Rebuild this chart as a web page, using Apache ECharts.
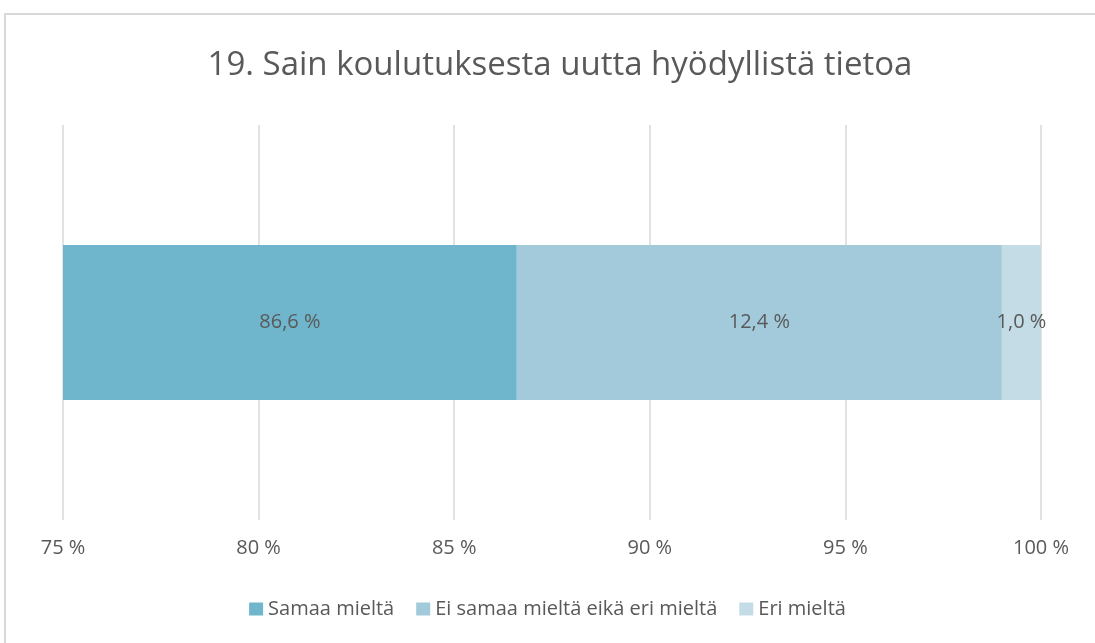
<!DOCTYPE html>
<html>
<head>
<meta charset="utf-8">
<script src="https://cdn.jsdelivr.net/npm/echarts@6/dist/echarts.min.js"></script>
<style>
  html, body { margin: 0; padding: 0; background: #fff; }
  #main { width: 1095px; height: 643px; }
</style>
</head>
<body>
<div id="main"></div>
<script>
var categories = ['19'];
var seriesNames = ['Samaa mieltä', 'Ei samaa mieltä eikä eri mieltä', 'Eri mieltä'];
var samaa = [86.6];
var eiSamaa = [12.4];
var eri = [1.0];
var colors = ['#6fb5cc', '#a2cada', '#c3dce6'];

var font = "'Open Sans', sans-serif";

function pct(v) {
    return v.toFixed(1).replace('.', ',') + ' %';
}

var myChart = echarts.init(document.getElementById('main'));
var option = {
    animation: false,
    textStyle: { fontFamily: font },
    title: {
        text: '19. Sain koulutuksesta uutta hyödyllistä tietoa',
        left: 555,
        textAlign: 'center',
        top: 44,
        textStyle: { fontSize: 33, fontWeight: 'normal', color: '#595959', fontFamily: font }
    },
    graphic: [
        {
            type: 'polyline',
            shape: { points: [[5, 643], [5, 14], [1095, 14]] },
            style: { stroke: '#d9d9d9', lineWidth: 2, fill: null }
        }
    ],
    legend: {
        data: seriesNames,
        bottom: 19,
        left: 'center',
        icon: 'rect',
        itemWidth: 14,
        itemHeight: 13,
        itemGap: 22,
        textStyle: { fontSize: 20, color: '#595959', fontFamily: font }
    },
    grid: {
        left: 63,
        right: 54,
        top: 125,
        bottom: 123
    },
    xAxis: {
        type: 'value',
        min: 75,
        max: 100,
        interval: 5,
        axisLine: { show: false },
        axisTick: { show: false },
        splitLine: { lineStyle: { color: '#d9d9d9', width: 1.5 } },
        axisLabel: {
            margin: 18,
            fontSize: 20,
            color: '#595959',
            formatter: function (v) { return v + ' %'; }
        }
    },
    yAxis: {
        type: 'category',
        data: categories,
        axisLine: { show: false },
        axisTick: { show: false },
        axisLabel: { show: false }
    },
    series: [
        { name: seriesNames[0], data: samaa, color: colors[0] },
        { name: seriesNames[1], data: eiSamaa, color: colors[1] },
        { name: seriesNames[2], data: eri, color: colors[2] }
    ].map(function (s) {
        return {
            name: s.name,
            type: 'bar',
            stack: 'total',
            barWidth: 155,
            data: s.data,
            itemStyle: { color: s.color },
            label: {
                show: true,
                position: 'inside',
                fontSize: 20,
                color: '#595959',
                formatter: function (p) { return pct(p.value); }
            }
        };
    })
};
myChart.setOption(option);
</script>
</body>
</html>
